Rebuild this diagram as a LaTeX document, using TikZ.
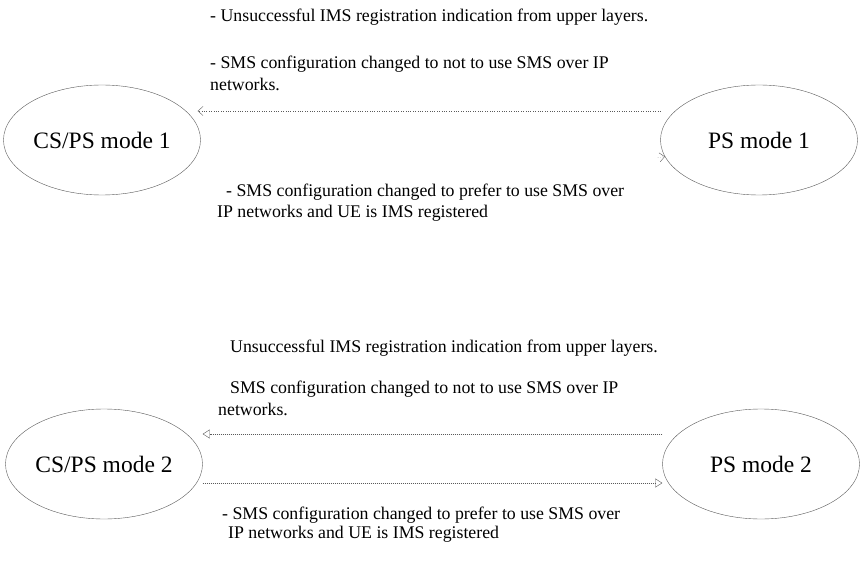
\documentclass[tikz,border=0pt]{standalone}
\usepackage{fontspec}
\setmainfont{Liberation Serif}
\usepackage{tikz}
\usetikzlibrary{shapes.geometric,arrows.meta}
\definecolor{line_grey}{HTML}{5a5a5a}

\begin{document}
\begin{tikzpicture}[x=1pt,y=-1pt,
        mode/.style={ellipse, draw=line_grey, thin, minimum width=197, minimum height=110, inner sep=0pt, font=\fontsize{23.5}{28}\selectfont},
        note/.style={anchor=base west, inner sep=0pt, font=\fontsize{17.8}{21}\selectfont},
        dotline/.style={draw=line_grey, dotted, -{Straight Barb[length=5pt,width=9pt]}},
        dashline/.style={draw=line_grey, dash pattern=on 1.2pt off 0.8pt, -{Triangle[open,length=7pt,width=9pt]}}]
                \useasboundingbox (0,0) rectangle (867,585);
                % mode 1
                \node[mode] (cp1) at (102,140) {CS/PS mode 1};
                \node[mode] (p1) at (759,140) {PS mode 1};
                \draw[dotline] (p1.west |- 0,111) -- ([xshift=-3pt]cp1.east |- 0,111);
                \coordinate (stub1) at ([xshift=-7pt,yshift=-1pt]p1.190);
                \draw[dotline] (stub1) -- (p1.190);
                \node[note] (t1a) at (210,22) {- Unsuccessful IMS registration indication from upper layers.};
                \node[note] (t1b) at (210,69) {- SMS configuration changed to not to use SMS over IP};
                \node[note] (t1c) at (210,91) {networks.};
                \node[note] (t1d) at (226,197) {- SMS configuration changed to prefer to use SMS over};
                \node[note] (t1e) at (217,218) {IP networks and UE is IMS registered};
                % mode 2
                \node[mode] (cp2) at (104,464) {CS/PS mode 2};
                \node[mode] (p2) at (761,464) {PS mode 2};
                \draw[dashline] (p2.west |- 0,434) -- (cp2.east |- 0,434);
                \draw[dashline] (cp2.east |- 0,483) -- (p2.west |- 0,483);
                \node[note] (t2a) at (230,352) {Unsuccessful IMS registration indication from upper layers.};
                \node[note] (t2b) at (230,393) {SMS configuration changed to not to use SMS over IP};
                \node[note] (t2c) at (218,415) {networks.};
                \node[note] (t2d) at (222,519) {- SMS configuration changed to prefer to use SMS over};
                \node[note] (t2e) at (228,538) {IP networks and UE is IMS registered};
\end{tikzpicture}
\end{document}
